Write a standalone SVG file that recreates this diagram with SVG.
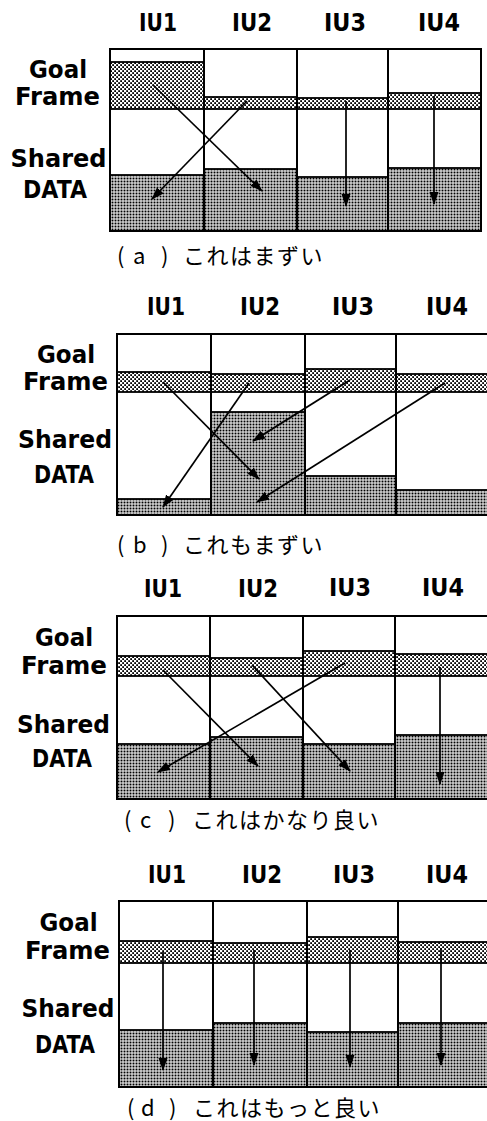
<svg xmlns="http://www.w3.org/2000/svg" width="487" height="1121" viewBox="0 0 487 1121">
<defs>
<pattern id="dots" width="3" height="3" patternUnits="userSpaceOnUse"><rect x="0.5" y="0.5" width="2" height="2" fill="#000"/></pattern>
<pattern id="band" width="4" height="4" patternUnits="userSpaceOnUse"><rect x="0.2" y="0.2" width="1.8" height="1.8" fill="#000"/><rect x="2.2" y="2.2" width="1.8" height="1.8" fill="#000"/></pattern>
<marker id="ah" markerUnits="userSpaceOnUse" markerWidth="13" markerHeight="10" refX="12" refY="4.5" orient="auto" viewBox="0 0 13 9"><path d="M0,0 L13,4.5 L0,9 z" fill="#000"/></marker>
</defs>
<style>
.cell{fill:#fff;stroke:#000;stroke-width:2}
.band{fill:url(#band);stroke:#000;stroke-width:1.8}
.data{fill:url(#dots);stroke:#000;stroke-width:1.8}
.arrow{stroke:#000;stroke-width:1.7;fill:none;marker-end:url(#ah)}
.hd{font-family:"DejaVu Sans",sans-serif;font-weight:bold;font-size:24px;text-anchor:middle}
.lb{font-family:"DejaVu Sans",sans-serif;font-weight:bold;font-size:24px;text-anchor:middle}
.cap{font-family:"Noto Sans CJK JP","Noto Sans",sans-serif;font-size:22px}
.capj{letter-spacing:1.5px}
</style>

<!-- Panel (a) -->
<g id="panel-a">
<g id="a-labels">
<text class="hd" x="158" y="31" textLength="38" lengthAdjust="spacingAndGlyphs">IU1</text>
<text class="hd" x="252" y="31" textLength="40" lengthAdjust="spacingAndGlyphs">IU2</text>
<text class="hd" x="345" y="31" textLength="42" lengthAdjust="spacingAndGlyphs">IU3</text>
<text class="hd" x="439" y="31" textLength="42" lengthAdjust="spacingAndGlyphs">IU4</text>
<text class="lb" x="58" y="78" textLength="58" lengthAdjust="spacingAndGlyphs">Goal</text>
<text class="lb" x="57.5" y="105" textLength="85" lengthAdjust="spacingAndGlyphs">Frame</text>
<text class="lb" x="58.5" y="167" textLength="96" lengthAdjust="spacingAndGlyphs">Shared</text>
<text class="lb" x="55" y="198" textLength="64" lengthAdjust="spacingAndGlyphs">DATA</text>
</g>
<g id="a-iu1"><rect class="cell" x="110" y="49" width="94" height="182"/><rect class="band" x="110" y="62" width="94" height="47"/><rect class="data" x="110" y="175" width="94" height="56"/></g>
<g id="a-iu2"><rect class="cell" x="204" y="49" width="93" height="182"/><rect class="band" x="204" y="97" width="93" height="12"/><rect class="data" x="204" y="169" width="93" height="62"/></g>
<g id="a-iu3"><rect class="cell" x="297" y="49" width="91" height="182"/><rect class="band" x="297" y="98" width="91" height="11"/><rect class="data" x="297" y="177" width="91" height="54"/></g>
<g id="a-iu4"><rect class="cell" x="388" y="49" width="93" height="182"/><rect class="band" x="388" y="93" width="93" height="16"/><rect class="data" x="388" y="168" width="93" height="63"/></g>
<g id="a-connectors">
<line class="arrow" x1="153" y1="85" x2="262" y2="191"/>
<line class="arrow" x1="247" y1="101" x2="152" y2="199"/>
<line class="arrow" x1="346" y1="101" x2="346" y2="206"/>
<line class="arrow" x1="434" y1="96" x2="434" y2="204"/>
</g>
<text class="cap" y="264"><tspan x="117">(</tspan><tspan x="133">a</tspan><tspan x="161">)</tspan><tspan x="183" class="capj">これはまずい</tspan></text>
</g>

<!-- Panel (b) -->
<g id="panel-b">
<g id="b-labels">
<text class="hd" x="166" y="315" textLength="38" lengthAdjust="spacingAndGlyphs">IU1</text>
<text class="hd" x="260" y="315" textLength="40" lengthAdjust="spacingAndGlyphs">IU2</text>
<text class="hd" x="353" y="315" textLength="42" lengthAdjust="spacingAndGlyphs">IU3</text>
<text class="hd" x="447" y="315" textLength="42" lengthAdjust="spacingAndGlyphs">IU4</text>
<text class="lb" x="66" y="363" textLength="58" lengthAdjust="spacingAndGlyphs">Goal</text>
<text class="lb" x="65.5" y="390" textLength="85" lengthAdjust="spacingAndGlyphs">Frame</text>
<text class="lb" x="65" y="448" textLength="94" lengthAdjust="spacingAndGlyphs">Shared</text>
<text class="lb" x="64" y="483" textLength="60" lengthAdjust="spacingAndGlyphs">DATA</text>
</g>
<g id="b-iu1"><rect class="cell" x="117" y="334" width="94" height="181"/><rect class="band" x="117" y="372" width="94" height="20"/><rect class="data" x="117" y="499" width="94" height="16"/></g>
<g id="b-iu2"><rect class="cell" x="211" y="334" width="94" height="181"/><rect class="band" x="211" y="374" width="94" height="18"/><rect class="data" x="211" y="412" width="94" height="103"/></g>
<g id="b-iu3"><rect class="cell" x="305" y="334" width="91" height="181"/><rect class="band" x="305" y="369" width="91" height="23"/><rect class="data" x="305" y="476" width="91" height="39"/></g>
<g id="b-iu4"><rect class="cell" x="396" y="334" width="93" height="181"/><rect class="band" x="396" y="374" width="93" height="18"/><rect class="data" x="396" y="490" width="93" height="25"/></g>
<g id="b-connectors">
<line class="arrow" x1="163" y1="382" x2="259" y2="479"/>
<line class="arrow" x1="249" y1="383" x2="163" y2="507"/>
<line class="arrow" x1="350" y1="380" x2="253" y2="441"/>
<line class="arrow" x1="445" y1="383" x2="257" y2="502"/>
</g>
<text class="cap" y="553"><tspan x="117">(</tspan><tspan x="133">b</tspan><tspan x="161">)</tspan><tspan x="183" class="capj">これもまずい</tspan></text>
</g>

<!-- Panel (c) -->
<g id="panel-c">
<g id="c-labels">
<text class="hd" x="163" y="597" textLength="38" lengthAdjust="spacingAndGlyphs">IU1</text>
<text class="hd" x="258" y="597" textLength="40" lengthAdjust="spacingAndGlyphs">IU2</text>
<text class="hd" x="350" y="596" textLength="42" lengthAdjust="spacingAndGlyphs">IU3</text>
<text class="hd" x="443" y="596" textLength="42" lengthAdjust="spacingAndGlyphs">IU4</text>
<text class="lb" x="64" y="646" textLength="58" lengthAdjust="spacingAndGlyphs">Goal</text>
<text class="lb" x="64" y="674" textLength="86" lengthAdjust="spacingAndGlyphs">Frame</text>
<text class="lb" x="63.5" y="733" textLength="93" lengthAdjust="spacingAndGlyphs">Shared</text>
<text class="lb" x="62" y="767" textLength="60" lengthAdjust="spacingAndGlyphs">DATA</text>
</g>
<g id="c-iu1"><rect class="cell" x="117" y="616" width="93" height="183"/><rect class="band" x="117" y="656" width="93" height="20"/><rect class="data" x="117" y="744" width="93" height="55"/></g>
<g id="c-iu2"><rect class="cell" x="210" y="616" width="93" height="183"/><rect class="band" x="210" y="658" width="93" height="18"/><rect class="data" x="210" y="737" width="93" height="62"/></g>
<g id="c-iu3"><rect class="cell" x="303" y="616" width="92" height="183"/><rect class="band" x="303" y="651" width="92" height="25"/><rect class="data" x="303" y="744" width="92" height="55"/></g>
<g id="c-iu4"><rect class="cell" x="395" y="616" width="94" height="183"/><rect class="band" x="395" y="654" width="94" height="22"/><rect class="data" x="395" y="735" width="94" height="64"/></g>
<g id="c-connectors">
<line class="arrow" x1="163" y1="670" x2="258" y2="766"/>
<line class="arrow" x1="345" y1="663" x2="158" y2="772"/>
<line class="arrow" x1="252" y1="665" x2="350" y2="771"/>
<line class="arrow" x1="440" y1="667" x2="440" y2="784"/>
</g>
<text class="cap" y="828"><tspan x="124">(</tspan><tspan x="140">c</tspan><tspan x="168">)</tspan><tspan x="192" class="capj">これはかなり良い</tspan></text>
</g>

<!-- Panel (d) -->
<g id="panel-d">
<g id="d-labels">
<text class="hd" x="167" y="883" textLength="38" lengthAdjust="spacingAndGlyphs">IU1</text>
<text class="hd" x="262" y="883" textLength="40" lengthAdjust="spacingAndGlyphs">IU2</text>
<text class="hd" x="354" y="883" textLength="42" lengthAdjust="spacingAndGlyphs">IU3</text>
<text class="hd" x="447" y="883" textLength="42" lengthAdjust="spacingAndGlyphs">IU4</text>
<text class="lb" x="68.5" y="931" textLength="58" lengthAdjust="spacingAndGlyphs">Goal</text>
<text class="lb" x="67.5" y="959" textLength="85" lengthAdjust="spacingAndGlyphs">Frame</text>
<text class="lb" x="68" y="1017" textLength="93" lengthAdjust="spacingAndGlyphs">Shared</text>
<text class="lb" x="65" y="1053" textLength="60" lengthAdjust="spacingAndGlyphs">DATA</text>
</g>
<g id="d-iu1"><rect class="cell" x="119" y="901" width="94" height="186"/><rect class="band" x="119" y="941" width="94" height="22"/><rect class="data" x="119" y="1030" width="94" height="57"/></g>
<g id="d-iu2"><rect class="cell" x="213" y="901" width="94" height="186"/><rect class="band" x="213" y="943" width="94" height="20"/><rect class="data" x="213" y="1023" width="94" height="64"/></g>
<g id="d-iu3"><rect class="cell" x="307" y="901" width="91" height="186"/><rect class="band" x="307" y="937" width="91" height="26"/><rect class="data" x="307" y="1032" width="91" height="55"/></g>
<g id="d-iu4"><rect class="cell" x="398" y="901" width="91" height="186"/><rect class="band" x="398" y="942" width="91" height="21"/><rect class="data" x="398" y="1023" width="91" height="64"/></g>
<g id="d-connectors">
<line class="arrow" x1="163" y1="952" x2="163" y2="1070"/>
<line class="arrow" x1="254" y1="950" x2="254" y2="1065"/>
<line class="arrow" x1="350" y1="950" x2="350" y2="1067"/>
<line class="arrow" x1="441" y1="948" x2="441" y2="1065"/>
</g>
<text class="cap" y="1116"><tspan x="127">(</tspan><tspan x="141">d</tspan><tspan x="169">)</tspan><tspan x="193" class="capj">これはもっと良い</tspan></text>
</g>
</svg>
